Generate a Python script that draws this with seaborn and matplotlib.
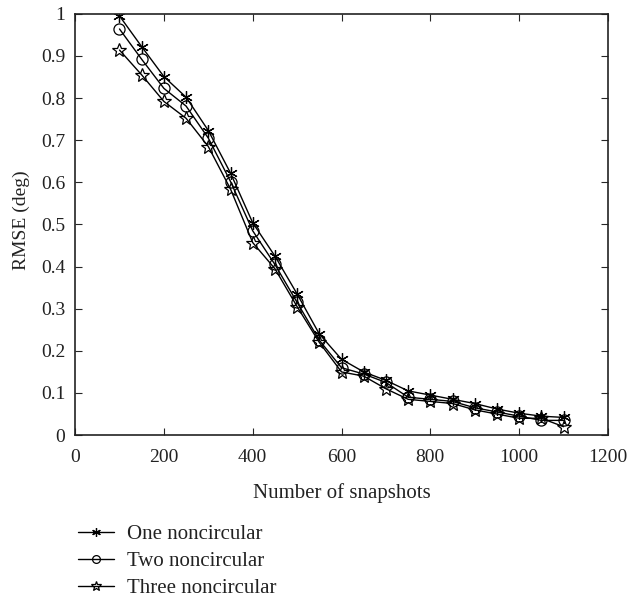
import numpy as np
import pandas as pd
import matplotlib
matplotlib.use('Agg')
import matplotlib.pyplot as plt
from matplotlib.lines import Line2D
import seaborn as sns

# Datos
snapshots = [100, 150, 200, 250, 300, 350, 400, 450, 500, 550, 600,
             650, 700, 750, 800, 850, 900, 950, 1000, 1050, 1100]
one_nc = [0.995, 0.922, 0.851, 0.802, 0.723, 0.622, 0.504, 0.425, 0.335, 0.24, 0.18,
          0.15, 0.13, 0.105, 0.095, 0.085, 0.075, 0.062, 0.052, 0.045, 0.042]
two_nc = [0.964, 0.892, 0.823, 0.781, 0.705, 0.602, 0.485, 0.405, 0.315, 0.225, 0.16,
          0.145, 0.125, 0.09, 0.085, 0.08, 0.065, 0.055, 0.045, 0.035, 0.035]
three_nc = [0.914, 0.855, 0.792, 0.752, 0.685, 0.584, 0.457, 0.395, 0.305, 0.22, 0.15,
            0.14, 0.11, 0.085, 0.08, 0.075, 0.06, 0.05, 0.04, 0.04, 0.02]
series_names = ['One noncircular', 'Two noncircular', 'Three noncircular']

sns.set_style('ticks')
plt.rcParams['font.family'] = ['Liberation Serif', 'DejaVu Serif']

fig = plt.figure(figsize=(6.31, 6.01), dpi=100)
ax = fig.add_axes([0.119, 0.276, 0.8445, 0.701])

estilos = [
    dict(marker=(6, 2, 0), markersize=9),
    dict(marker='o', markersize=8),
    dict(marker='*', markersize=10),
]
for nombre, valores, st in zip(series_names, [one_nc, two_nc, three_nc], estilos):
    sns.lineplot(x=snapshots, y=valores, ax=ax, color='black', linewidth=1.0,
                 markerfacecolor='none', markeredgecolor='black',
                 markeredgewidth=0.9, legend=False, **st)

ax.set_xlim(0, 1200)
ax.set_ylim(0, 1)
ax.set_xticks(np.arange(0, 1201, 200))
ax.set_yticks(np.arange(0, 1.01, 0.1))
ax.set_yticklabels(['0', '0.1', '0.2', '0.3', '0.4', '0.5', '0.6', '0.7', '0.8', '0.9', '1'])
ax.tick_params(direction='in', top=True, right=True, labelsize=14, length=5, width=0.8,
               labelcolor='#222222')
ax.tick_params(axis='x', pad=10)
ax.tick_params(axis='y', pad=7)
for s in ax.spines.values():
    s.set_linewidth(1.2)
    s.set_color('#222222')

ax.set_xlabel('Number of snapshots', fontsize=15, labelpad=12, color='#222222')
ax.set_ylabel('RMSE (deg)', fontsize=14, color='#222222')
ax.yaxis.set_label_coords(-0.084, 0.51)

# Leyenda con marcadores más pequeños, como en el original
handles = [Line2D([], [], color='black', linewidth=1.0, markerfacecolor='none',
                  markeredgecolor='black', markeredgewidth=0.9,
                  marker=st['marker'], markersize=st['markersize'] * 0.7)
           for st in estilos]
fig.legend(handles=handles, labels=series_names, loc='upper left',
           bbox_to_anchor=(0.111, 0.141), frameon=False, fontsize=15,
           handlelength=1.7, handletextpad=0.65, labelspacing=0.35,
           borderaxespad=0, labelcolor='#222222')

fig.savefig('out.png', dpi=100)
